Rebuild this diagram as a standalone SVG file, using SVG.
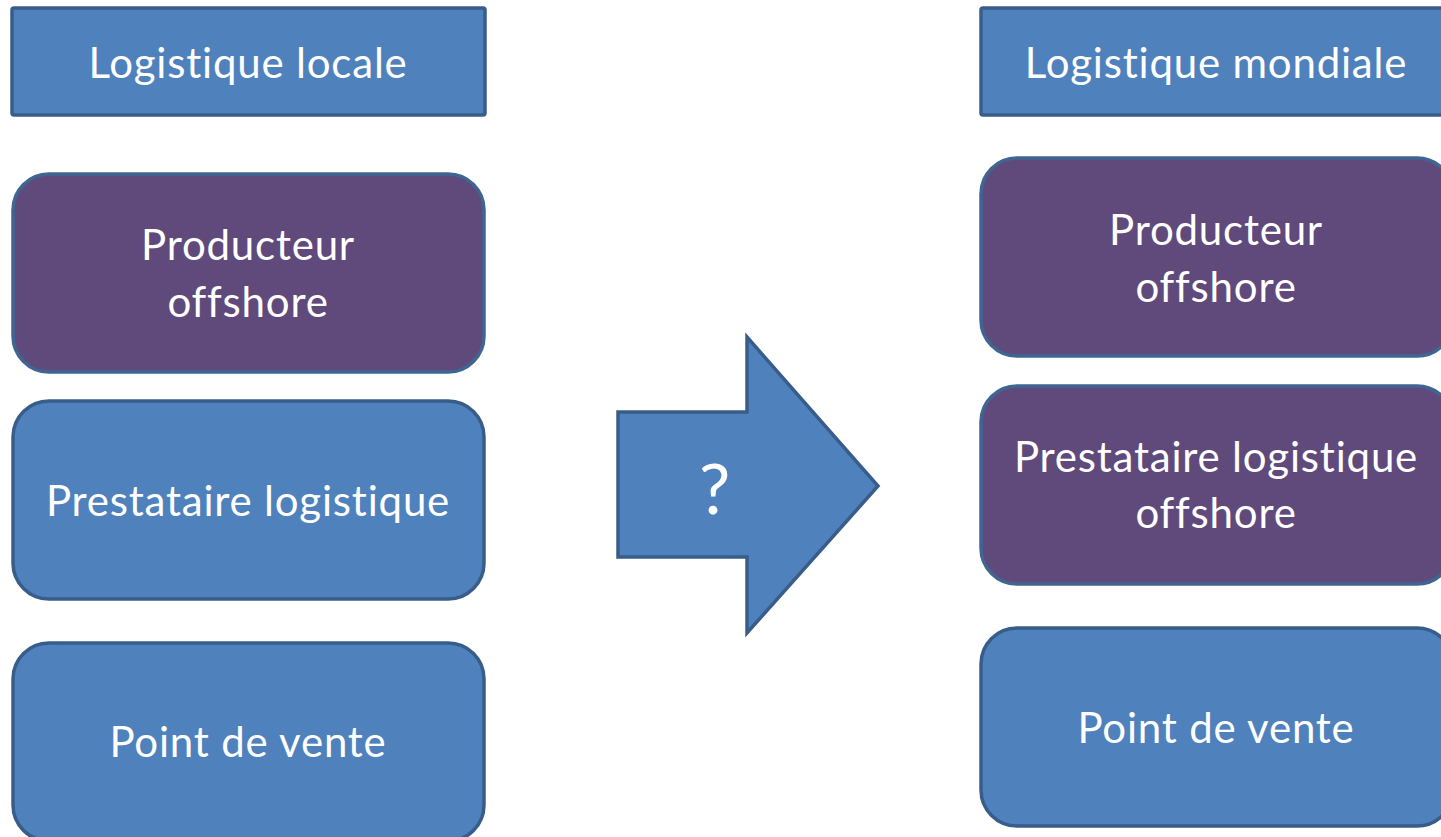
<svg xmlns="http://www.w3.org/2000/svg" width="1441" height="837" viewBox="0 0 1441 837">
<style>
.blue{fill:#4f81bd;stroke:#385d8a;stroke-width:3.5}
.purple{fill:#604a7b;stroke:#3f6592;stroke-width:3.5}
.t{font-family:Lato,"Liberation Sans",sans-serif;font-size:42px;letter-spacing:0.8px;font-variant-ligatures:none;fill:#fff;text-anchor:middle}
</style>
<rect width="1441" height="837" fill="#fff"/>
<g id="hdr-local"><rect class="blue" x="12" y="8" width="473" height="107" rx="2"/><text class="t" x="248" y="78">Logistique locale</text></g>
<g id="hdr-mondiale"><rect class="blue" x="981" y="8" width="472" height="107" rx="2"/><text class="t" x="1216" y="78">Logistique mondiale</text></g>
<g id="l-producteur"><rect class="purple" x="13" y="174" width="471" height="198" rx="36"/><text class="t" x="248" y="260">Producteur</text><text class="t" x="248" y="317">offshore</text></g>
<g id="l-prestataire"><rect class="blue" x="13" y="401" width="471" height="198" rx="36"/><text class="t" x="248" y="516">Prestataire logistique</text></g>
<g id="l-vente"><rect class="blue" x="13" y="643" width="471" height="198" rx="36"/><text class="t" x="248" y="757">Point de vente</text></g>
<g id="r-producteur"><rect class="purple" x="981" y="158" width="472" height="198" rx="36"/><text class="t" x="1216" y="245">Producteur</text><text class="t" x="1216" y="302">offshore</text></g>
<g id="r-prestataire"><rect class="purple" x="981" y="386" width="472" height="198" rx="36"/><text class="t" x="1216" y="472">Prestataire logistique</text><text class="t" x="1216" y="528">offshore</text></g>
<g id="r-vente"><rect class="blue" x="981" y="628" width="472" height="198" rx="36"/><text class="t" x="1216" y="743">Point de vente</text></g>
<g id="arrow"><polygon class="blue" points="618,412 747,412 747,337 878,486 747,633 747,557 618,557"/><text class="t" x="715" y="514" style="font-size:70px">?</text></g>
</svg>
